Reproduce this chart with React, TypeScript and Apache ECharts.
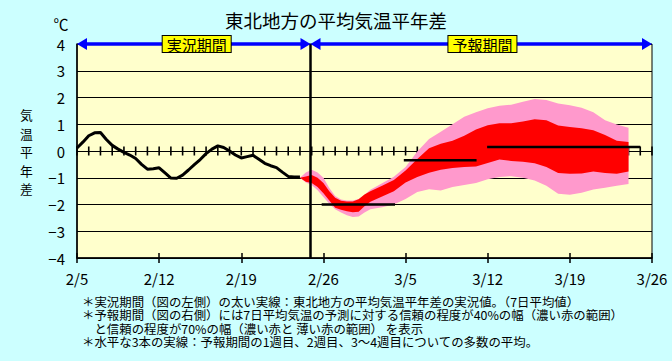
import React, { useEffect, useRef } from "react";
import * as echarts from "echarts";

const FONT = '"Noto Sans CJK JP", "Noto Sans", sans-serif';

const dateLabels = ["2/5", "2/12", "2/19", "2/26", "3/5", "3/12", "3/19", "3/26"];

// observed 7-day mean anomaly (days from 2/5)
const obsDays = [0, 0.5, 1, 1.5, 2, 2.5, 3, 3.5, 4, 4.5, 5, 5.5, 6, 6.5, 7, 7.5, 8, 8.5, 9, 9.5, 10, 10.5, 11, 11.5, 12, 12.5, 13, 13.5, 14, 14.5, 15, 15.5, 16, 16.5, 17, 17.5, 18, 18.5, 19];
const obsVals = [0.11, 0.33, 0.57, 0.68, 0.69, 0.43, 0.21, 0.07, -0.05, -0.15, -0.28, -0.5, -0.68, -0.66, -0.63, -0.82, -1.01, -1.02, -0.9, -0.71, -0.51, -0.32, -0.1, 0.07, 0.19, 0.13, 0.0, -0.15, -0.26, -0.21, -0.16, -0.31, -0.46, -0.55, -0.62, -0.79, -0.95, -0.97, -0.97];

// forecast spread
const fcDays = [19, 19.5, 20, 20.5, 21, 21.5, 22, 22.5, 23, 23.5, 24, 24.5, 25, 26, 27, 28, 29, 30, 31, 32, 33, 34, 35, 36, 37, 38, 39, 40, 41, 42, 43, 44, 45, 46, 47];
const pinkHi = [-1.0, -0.8, -0.7, -0.8, -1.0, -1.38, -1.68, -1.81, -1.85, -1.85, -1.79, -1.64, -1.45, -1.21, -0.96, -0.6, -0.02, 0.45, 0.72, 1.0, 1.28, 1.45, 1.6, 1.69, 1.73, 1.84, 1.94, 1.91, 1.78, 1.71, 1.62, 1.45, 1.15, 0.99, 0.87];
const redHi = [-1.0, -0.95, -0.9, -1.0, -1.2, -1.5, -1.75, -1.86, -1.89, -1.89, -1.8, -1.63, -1.5, -1.3, -1.08, -0.73, -0.3, 0.1, 0.27, 0.38, 0.57, 0.8, 0.96, 1.04, 1.04, 1.1, 1.19, 1.15, 0.95, 0.9, 0.85, 0.78, 0.6, 0.38, 0.34];
const redLo = [-1.0, -1.15, -1.2, -1.35, -1.58, -1.85, -2.12, -2.2, -2.25, -2.29, -2.27, -2.07, -1.9, -1.7, -1.5, -1.18, -0.97, -0.81, -0.7, -0.64, -0.6, -0.58, -0.45, -0.32, -0.37, -0.4, -0.46, -0.6, -0.82, -0.85, -0.84, -0.77, -0.82, -0.85, -0.77];
const pinkLo = [-1.0, -1.18, -1.27, -1.47, -1.72, -1.97, -2.18, -2.3, -2.4, -2.47, -2.45, -2.3, -2.18, -2.1, -2.0, -1.79, -1.53, -1.43, -1.48, -1.35, -1.27, -1.2, -1.06, -0.97, -0.94, -1.0, -1.1, -1.3, -1.6, -1.64, -1.56, -1.44, -1.37, -1.3, -1.23];

// weekly means (1st week, 2nd week, 3rd-4th weeks)
const weekStart = [20.85, 27.85, 34.95];
const weekEnd = [27.1, 34.05, 48.0];
const weekMean = [-2.0, -0.35, 0.15];

const nowDay = 19.9;
const totalDays = 49;

const yName = ["気", "温", "平", "年", "差"];
const notes = [
  "＊実況期間（図の左側）の太い実線：東北地方の平均気温平年差の実況値。（7日平均値）",
  "＊予報期間（図の右側）には7日平均気温の予測に対する信頼の程度が40%の幅（濃い赤の範囲）",
  "　と信頼の程度が70%の幅（濃い赤と 薄い赤の範囲） を表示",
  "＊水平な3本の実線：予報期間の1週目、2週目、3〜4週目についての多数の平均。",
];

export default function App() {
  const ref = useRef<HTMLDivElement>(null);
  useEffect(() => {
    const chart = echarts.init(ref.current!, null, { renderer: "svg" });
    const baseX = { type: "value", min: 0, max: totalDays, gridIndex: 0, splitLine: { show: false } };
    const dayTicks: number[][] = [];
    for (let d = 0; d <= totalDays; d++) dayTicks.push([d, 0]);
    const option: any = {
      animation: false,
      backgroundColor: "#CCFFFF",
      textStyle: { fontFamily: FONT },
      title: {
        text: "東北地方の平均気温平年差",
        left: "center",
        top: 11,
        padding: 0,
        textStyle: { fontSize: 18.5, fontWeight: "normal", color: "#000", fontFamily: FONT },
      },
      grid: {
        left: 77, top: 44, right: 20, bottom: 103,
        show: true, backgroundColor: "#FFFFCC", borderColor: "#000", borderWidth: 1,
      },
      xAxis: [
        {
          ...baseX, interval: 7, position: "bottom",
          axisLine: { show: true, onZero: false, lineStyle: { color: "#000", width: 1.5 } },
          axisTick: { show: true, inside: false, length: 5, lineStyle: { color: "#000", width: 1.5 } },
          axisLabel: {
            formatter: (v: number) => dateLabels[Math.round(v / 7)] ?? "",
            color: "#000", fontSize: 15, margin: 13, fontFamily: FONT,
          },
        },
        {
          ...baseX, interval: 7, position: "bottom",
          axisLine: { show: false, onZero: false },
          axisTick: { show: true, inside: true, length: 5, lineStyle: { color: "#000", width: 1.5 } },
          axisLabel: { show: false },
        },
      ],
      yAxis: [
        {
          type: "value", min: -4, max: 4, interval: 1,
          axisLine: { show: true, onZero: false, lineStyle: { color: "#000", width: 1.5 } },
          axisTick: { show: false },
          axisLabel: {
            formatter: (v: number) => (v < 0 ? "−" + Math.abs(v) : String(v)),
            color: "#000", fontSize: 15, margin: 12, fontFamily: FONT,
          },
          splitLine: { show: true, lineStyle: { color: "#000", width: 1 } },
        },
      ],
      series: [
        {
          // daily tick marks crossing the zero line (under the bands)
          type: "scatter",
          xAxisIndex: 0, yAxisIndex: 0,
          data: dayTicks,
          symbol: "rect",
          symbolSize: [1.6, 9],
          itemStyle: { color: "#000000", opacity: 1 },
          emphasis: { disabled: true },
          silent: true,
          clip: false,
          z: 1,
        },
        {
          type: "custom",
          xAxisIndex: 0, yAxisIndex: 0,
          silent: true,
          z: 2,
          data: [[fcDays[0], pinkLo[0]]],
          renderItem: (_p: any, api: any) => {
            const poly = (hi: number[], lo: number[]) => {
              const top = fcDays.map((d, i) => api.coord([d, hi[i]]));
              const bot = fcDays.map((d, i) => api.coord([d, lo[i]])).reverse();
              return top.concat(bot);
            };
            return {
              type: "group",
              children: [
                { type: "polygon", shape: { points: poly(pinkHi, pinkLo) }, style: { fill: "#FF99CC" } },
                { type: "polygon", shape: { points: poly(redHi, redLo) }, style: { fill: "#FF0000" } },
              ],
            };
          },
        },
        {
          type: "line",
          xAxisIndex: 0, yAxisIndex: 0,
          data: obsDays.map((d, i) => [d, obsVals[i]]),
          symbol: "none",
          lineStyle: { color: "#000", width: 3 },
          emphasis: { disabled: true },
          silent: true,
          z: 4,
          markLine: {
            silent: true,
            symbol: ["none", "none"],
            label: { show: false },
            lineStyle: { color: "#000", width: 2.5, type: "solid" },
            emphasis: { disabled: true },
            data: [{ xAxis: nowDay }],
          },
        },
        ...weekMean.map((m, i) => ({
          type: "line",
          xAxisIndex: 0, yAxisIndex: 0,
          data: [[weekStart[i], m], [weekEnd[i], m]],
          symbol: "none",
          lineStyle: { color: "#000", width: 2.5 },
          emphasis: { disabled: true },
          silent: true,
          z: 4,
        })),
      ],
    };
    chart.setOption(option);

    const px = (d: number, v: number) => chart.convertToPixel({ gridIndex: 0 } as any, [d, v]) as number[];
    const [x0, yA] = px(0, 4);
    const [xN] = px(nowDay, 4);
    const [xE] = px(totalDays, 4);
    const [xL1] = px(10.2, 4);
    const [xL2] = px(34.55, 4);
    const blue = "#0000FF";
    const AL = 10, AH = 6;
    const tri = (tipX: number, dir: number) => ({
      type: "polygon", z: 100, silent: true,
      shape: { points: [[tipX, yA], [tipX - dir * AL, yA - AH], [tipX - dir * AL, yA + AH]] },
      style: { fill: blue },
    });
    const seg = (a: number, b: number) => ({
      type: "line", z: 100, silent: true,
      shape: { x1: a, y1: yA, x2: b, y2: yA },
      style: { stroke: blue, lineWidth: 3.5 },
    });
    const boxLabel = (x: number, t: string) => ({
      type: "text", z: 101, silent: true, x, y: yA,
      style: {
        text: t, fill: "#000", font: `15px ${FONT}`,
        align: "center", verticalAlign: "middle",
        backgroundColor: "#FFFF00", borderColor: "#000", borderWidth: 1, padding: [1, 4, 0, 4],
      },
    });
    const elements: any[] = [
      seg(x0 + 4, xN - 4), seg(xN + 4, xE - 4),
      tri(x0, -1), tri(xN, 1), tri(xN, -1), tri(xE, 1),
      boxLabel(xL1, "実況期間"), boxLabel(xL2, "予報期間"),
      {
        type: "text", z: 100, silent: true, x: 61, y: 23,
        style: { text: "℃", fill: "#000", font: `15px ${FONT}`, align: "center", verticalAlign: "middle" },
      },
      ...yName.map((c, i) => ({
        type: "text", z: 100, silent: true, x: 26.5, y: 114.5 + i * 18.5,
        style: { text: c, fill: "#000", font: `12.8px ${FONT}`, lineHeight: 13, align: "center", verticalAlign: "middle" },
      })),
      ...notes.map((t, i) => ({
        type: "text", z: 100, silent: true, x: 82, y: 301.8 + i * 13.4, scaleX: 1.035,
        style: {
          text: t, fill: "#000", font: `12px ${FONT}`, lineHeight: 12,
          align: "left", verticalAlign: "middle",
        },
      })),
    ];
    chart.setOption({ graphic: { elements } });
    return () => chart.dispose();
  }, []);
  return <div ref={ref} style={{ position: "absolute", left: 0, top: 0, width: 672, height: 361 }} />;
}
